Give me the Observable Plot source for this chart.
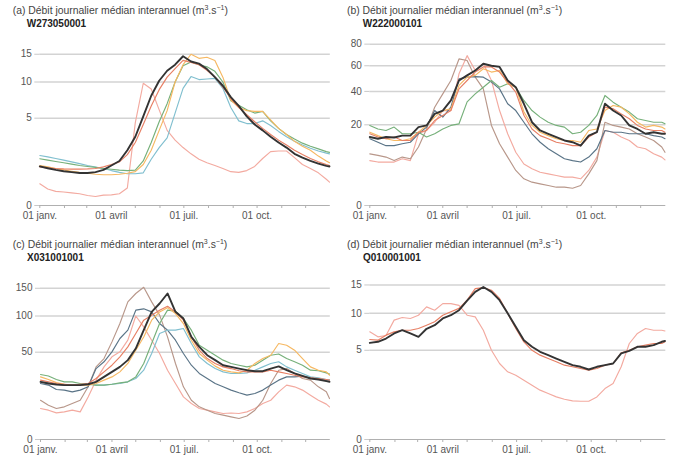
<!DOCTYPE html>
<html><head><meta charset="utf-8">
<script src="https://cdn.jsdelivr.net/npm/d3@7"></script>
<script src="https://cdn.jsdelivr.net/npm/@observablehq/plot@0.6"></script>
<style>
body{margin:0;background:#fff;font-family:"Liberation Sans",Arial,Helvetica,sans-serif;}
#wrap{position:relative;width:680px;height:461px;overflow:hidden;}
.panel{position:absolute;}
.title{position:absolute;font-size:10.4px;line-height:10px;color:#444;white-space:nowrap;}
.station{position:absolute;font-size:10px;line-height:10px;font-weight:bold;color:#222;white-space:nowrap;}
.title sup{font-size:7px;line-height:0;vertical-align:4px;}
</style></head>
<body><div id="wrap"></div>
<script>
// ---- data (daily median flow, m3/s) ----
const days = [0,10,20,30,40,50,60,70,80,90,100,110,120,130,140,150,160,170,180,190,200,210,220,230,240,250,260,270,280,290,300,310,320,330,340,350,360,364];
const monthStarts = [0,31,59,90,120,151,181,212,243,273,304,334];
const monthLabels = {0:"01 janv.",90:"01 avril",181:"01 juil.",273:"01 oct."};
const titles = ["(a)","(b)","(c)","(d)"];
const stations = ["W273050001","W222000101","X031001001","Q010001001"];
const yTicksA = [0,5,10,15];
const yTicksB = [0,20,40,60,80];
const yTicksC = [0,50,100,150];
const yTicksD = [0,5,10,15];

const A_pink   = [0.31,0.18,0.13,0.12,0.105,0.09,0.066,0.053,0.07,0.075,0.09,0.2,4.5,9.8,8.9,6.0,3.7,2.8,2.2,1.75,1.4,1.2,1.05,0.9,0.75,0.72,0.8,1.0,1.45,1.9,1.95,1.95,1.5,1.1,0.9,0.7,0.45,0.36];
const A_blue   = [1.64,1.55,1.45,1.35,1.25,1.15,1.05,0.97,0.9,0.8,0.72,0.66,0.66,0.7,1.4,2.2,3.0,5.6,9.0,10.9,10.4,10.5,10.6,9.0,6.3,4.7,4.4,4.4,4.7,4.2,3.6,3.1,2.7,2.4,2.15,1.95,1.8,1.75];
const A_green  = [1.43,1.35,1.27,1.2,1.12,1.05,1.0,0.95,0.9,0.86,0.82,0.8,0.82,1.3,2.6,4.6,6.8,10.0,12.8,13.5,13.0,12.6,11.8,10.0,7.2,6.6,6.0,5.6,5.8,4.7,3.9,3.3,2.9,2.55,2.3,2.1,1.9,1.85];
const A_orange = [1.05,0.98,0.9,0.83,0.77,0.72,0.68,0.64,0.62,0.62,0.64,0.68,0.75,1.1,2.0,3.7,5.9,10.0,13.0,15.0,14.2,14.4,13.8,10.8,7.3,6.3,5.9,5.8,5.8,4.8,3.9,3.3,2.7,2.3,2.0,1.6,1.3,1.2];
const A_salmon = [0.98,0.93,0.9,0.88,0.87,0.87,0.88,0.9,0.98,1.1,1.25,1.7,2.6,4.3,6.5,8.8,10.8,12.3,13.8,13.4,13.0,12.0,10.8,9.2,7.5,6.3,5.4,4.6,3.9,3.3,2.8,2.4,2.0,1.7,1.45,1.25,1.1,1.05];
const A_black  = [1.00,0.91,0.83,0.77,0.73,0.69,0.69,0.73,0.83,1.05,1.3,2.0,3.1,5.2,7.9,10.2,11.9,13.0,14.6,13.6,13.2,12.2,10.8,9.4,7.7,6.5,5.2,4.3,3.7,3.1,2.6,2.2,1.75,1.5,1.3,1.15,1.03,1.0];

const B_pink   = [6.2,5.8,5.8,5.8,6.7,6.2,15.8,17.3,21.3,27.7,27.7,53.3,69,56,62,48,27.7,15.8,8.7,5.3,4.13,3.4,3.08,2.77,2.47,2.47,2.19,3.77,7.2,17.3,16.5,14.4,13,10.5,9.9,8.2,7.2,6.4];
const B_brown  = [8.2,7.7,7.2,6.2,7.2,6.7,10.5,18,29.7,38.3,48,66,64.6,50.6,41.8,19.7,11.7,7.2,3.77,2.19,1.67,1.44,1.23,1.03,1.03,0.92,1.23,3.08,6.2,21.3,19.7,18.9,18,15.8,14.4,13,10.5,8.7];
const B_slate  = [13.7,12.3,11,11,11.7,12.3,15.8,18.9,27.7,24,29.7,49.3,50.6,51,50.6,46.8,41.8,31.8,27.7,21.3,15.8,12.3,9.9,8.2,6.7,6.2,5.8,7.2,9.9,17.3,16.5,16.5,15.8,15.8,15.8,15,14.4,13.7];
const B_green  = [19.7,18,17.3,18.9,15.8,15.8,16.5,14.4,15.8,18,19.7,20.5,33,38.3,43,48,43,45.5,43,33.9,27.7,24,21.3,19.7,18.9,15.8,16.5,19.7,24.9,37.2,32.8,29.7,26.8,23.1,22.2,21.3,21.3,20.5];
const B_orange = [16.5,15,13.7,13,13,13.7,16.5,19.7,24,27.7,28.7,44.3,50.6,52,57.5,54.7,56,45.5,43,27,19.7,16.5,15,13.7,13,13,12.3,17.3,18,27.7,30.7,29.7,25.8,21.3,18.9,19.7,18.9,18];
const B_salmon = [15.8,14.4,13.7,14.4,13,13,16.5,17.3,22.2,24.9,27.7,41.8,48,54.7,59,59,54.7,46.8,39.5,25,18,15,13.7,12.3,11.7,11,11,14.4,16.5,29.7,28.7,25.8,23.1,19.7,18,17.3,17.3,16.5];
const B_black  = [14.4,13.7,14.4,14.2,15.0,15.0,18.9,19.7,25.8,27.7,33.9,48,52,56,61.7,60,59,48,43,31.8,21.3,17.3,15.8,14.4,13,12.3,11,15,16.5,31.8,27.7,24.9,19.7,18,15.8,16.5,15.8,15.8];

const C_pink   = [6.3,5.64,4.66,5.0,5.64,5.0,11.9,23.1,34.6,44.8,50.4,64.7,100,83.2,64.7,48.5,31.5,20.6,11.9,8.5,6.3,5.64,5.0,4.43,4.6,4.43,5.0,6.3,8.5,10.1,14.9,19.4,18.2,16,12.9,10.1,8.2,7];
const C_brown  = [10.1,7.7,6.3,7.0,8.5,10.1,18.2,34.6,43,62.5,88.2,124.2,139.8,152,124.2,101.4,69.1,37.9,18.2,10.1,7.0,5.64,4.43,3.88,3.37,2.89,3.6,5.64,10.1,20.6,31.5,33,28.6,24.4,23.1,18.2,14.9,11];
const C_slate  = [20.6,19.4,16.4,16,14.9,16,18.2,33,39.6,50.4,66.9,78.4,109.7,112,106.8,88.2,78.4,64.7,48.5,36.2,28.6,24.4,20.6,18.2,16,14.3,12.9,13.9,16,19.4,23.1,25.7,25.7,26.2,25,24.4,23.1,23.1];
const C_blue   = [21.8,21.2,20,19.4,19.4,20,20.6,19.4,19.4,20,20.6,21.8,24.4,31.5,48.5,73.7,78.4,78.4,80.8,60.4,44.8,37.9,33,30,28.6,28.6,29.1,31.5,34.6,37.9,39.6,34.6,31.5,28.6,25.7,25,23.6,23.1];
const C_green  = [27.7,26.4,23.6,21.8,21.8,20.6,20,19.4,19.4,20,21,21.8,25.7,37.9,60.4,88.2,109.7,108,96,78.4,58.3,52.3,46.6,41.3,37.9,36.2,34.6,36.2,41.3,46.6,48,43,39.6,36.2,31.5,31,29.1,28];
const C_orange = [25.7,23.6,21.2,20,19.4,19.4,19.4,20.6,23.1,25.7,30,37.9,52.3,69,93.4,106.8,114,104,88.2,64.7,48.5,41.3,35.3,31.5,30,29.1,31.5,37.9,43,46.6,60.4,58.3,52.3,43,34.6,31.5,30,27.1];
const C_salmon = [23.1,21.8,20.6,20,19.4,20,20.6,24.4,30,36.2,44.8,56.3,73.7,93.4,101.4,109.7,116.5,106.8,93.4,69.1,52.3,43,37.9,34.6,33,31,30,30,30,31.5,30,28.6,27.1,25.7,25,24.4,23.6,23.1];
const C_black  = [21.8,20.6,19.8,19.4,19.4,19.4,20,21.8,25.7,30,34.6,41.3,54.3,78.4,106.8,121.3,139.8,107,96,69.1,56.3,46.6,41.3,36.2,34.6,33,31.5,30.6,30.6,33,35,31.5,28.6,26.5,24.4,23.6,22.3,21.8];

const D_pink   = [7.28,6.62,6.8,8.95,9.35,9.2,9.7,11.05,10.5,11.6,11.6,11.3,9.7,9.45,7.5,5.0,3.63,2.88,2.6,2.21,1.85,1.53,1.33,1.14,1.02,0.94,0.92,0.92,1.14,1.63,1.97,3.32,5.79,7.06,7.74,7.5,7.5,7.4];
const D_salmon = [6.28,6.2,6.84,7.28,7.5,7.5,7.74,8.2,8.7,9.7,10.24,10.8,12.2,14.3,14.5,14.0,12.5,10.0,7.74,5.99,5.0,4.47,4.12,3.79,3.47,3.32,3.17,3.02,3.17,3.47,3.63,4.72,5.0,5.4,5.59,5.79,5.79,6.0];
const D_black  = [5.87,6.0,6.4,7.06,7.5,7.06,6.62,7.7,8.2,9.2,9.7,10.5,12.1,13.7,14.6,13.7,12.2,10.0,8.0,6.2,5.4,4.83,4.47,4.12,3.79,3.47,3.32,3.08,3.32,3.47,3.63,4.65,4.93,5.4,5.4,5.59,6.0,6.1];

// ---- styles ----
const COL = {pink:"#f3aaa0", brown:"#b8978a", slate:"#5a7487", blue:"#80bfcf", green:"#76b07a", orange:"#f6b862", salmon:"#e77f64", black:"#333333"};
const FONT = '"Liberation Sans", Arial, Helvetica, sans-serif';

function makePanel(series, yTicks, ymax, opts) {
  const marks = [
    Plot.gridY(yTicks.filter(t => t > 0), {stroke:"#d3d3d3", strokeOpacity:1, strokeWidth:1.5}),
    Plot.ruleY([0], {stroke:"#b0b0b0", strokeWidth:1}),
    Plot.axisY(yTicks, {tickSize:5, tickPadding:3, stroke:"#c8c8c8", fill:"#555", fontSize:10, label:null}),
    Plot.axisX(monthStarts, {tickSize:3, tickPadding:3, stroke:"#b0b0b0", fill:"#555", fontSize:10, label:null,
      tickFormat: d => monthLabels[d] || ""})
  ];
  for (const [name, vals] of series) {
    marks.push(Plot.line(days, {x: d => d, y: (d, i) => vals[i],
      stroke: COL[name], strokeWidth: name === "black" ? 1.9 : 1.15}));
  }
  return Plot.plot({
    width: opts.w, height: opts.h,
    marginLeft: opts.ml, marginRight: opts.mr, marginTop: 40, marginBottom: opts.mb,
    style: {fontFamily: FONT, fontSize: "10px", background: "transparent", overflow: "visible"},
    x: {domain: [0, 365]},
    y: {type: "sqrt", domain: [0, ymax]},
    marks
  });
}

const panels = [
  {series: [["pink",A_pink],["blue",A_blue],["green",A_green],["orange",A_orange],["salmon",A_salmon],["black",A_black]],
   ticks: yTicksA, ymax: 17.85, left: 0, top: 0, w: 340, h: 230, ml: 39.3, mr: 10.2, mb: 25,
   tl: 12.7, tt: 5.5, sl: 26.7, st: 18.5},
  {series: [["pink",B_pink],["brown",B_brown],["slate",B_slate],["green",B_green],["orange",B_orange],["salmon",B_salmon],["black",B_black]],
   ticks: yTicksB, ymax: 83.65, left: 340, top: 0, w: 340, h: 230, ml: 29.3, mr: 14.7, mb: 25,
   tl: 347, tt: 5.5, sl: 362.7, st: 18.5},
  {series: [["pink",C_pink],["brown",C_brown],["slate",C_slate],["blue",C_blue],["green",C_green],["orange",C_orange],["salmon",C_salmon],["black",C_black]],
   ticks: yTicksC, ymax: 187.3, left: 0, top: 230, w: 340, h: 231, ml: 40, mr: 10.2, mb: 22,
   tl: 12.7, tt: 239.5, sl: 27, st: 252.5},
  {series: [["pink",D_pink],["salmon",D_salmon],["black",D_black]],
   ticks: yTicksD, ymax: 17.94, left: 340, top: 230, w: 340, h: 231, ml: 29.3, mr: 14.7, mb: 22,
   tl: 347, tt: 239.5, sl: 363, st: 252.5}
];

const wrap = document.getElementById("wrap");
panels.forEach((p, i) => {
  const svg = makePanel(p.series, p.ticks, p.ymax, p);
  const box = document.createElement("div");
  box.className = "panel";
  box.style.left = p.left + "px"; box.style.top = p.top + "px";
  box.appendChild(svg);
  wrap.appendChild(box);
  const t = document.createElement("div");
  t.className = "title";
  t.style.left = p.tl + "px"; t.style.top = p.tt + "px";
  t.innerHTML = titles[i] + " Débit journalier médian interannuel (m<sup>3</sup>.s<sup>\u22121</sup>)";
  wrap.appendChild(t);
  const s = document.createElement("div");
  s.className = "station";
  s.style.left = p.sl + "px"; s.style.top = p.st + "px";
  s.textContent = stations[i];
  wrap.appendChild(s);
});
</script>
</body></html>
